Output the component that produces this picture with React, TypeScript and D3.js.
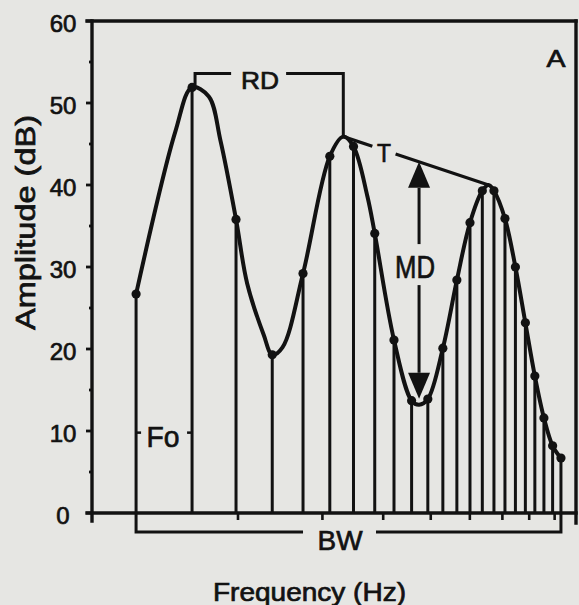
import React from "react";
import * as d3 from "d3";

// ---- data ----
const F0 = 180; // Hz, fundamental
const harmonicNumbers = [1, 2, 3, 4, 5, 6, 7, 8, 9, 10, 11, 12, 13, 14, 15, 16, 17, 18, 19, 20, 21, 22, 23];
const harmonicDb = [26.7, 51.9, 35.8, 19.3, 29.2, 43.5, 44.7, 34.1, 21.1, 13.7, 13.9, 20.1, 28.4, 35.4, 39.3, 39.3, 35.9, 30.0, 23.2, 16.7, 11.6, 8.2, 6.7];
// extra points of the spectral envelope between harmonics
const envelopeExtraHz = [301, 424, 472, 592, 675, 777, 1180, 1376, 1881, 2795];
const envelopeExtraDb = [46.5, 50.8, 45.4, 28.0, 21.7, 20.2, 45.9, 38.6, 13.2, 40.0];
const yTicks = [0, 10, 20, 30, 40, 50, 60];
const yMinorTicks = [5, 15, 25, 35, 45, 55];
const xTicksHz = [549, 1028, 1517, 2014, 2518, 3017, 3492, 4003];
const xDomainHz = [69, 4484];
const freqWarp = 396; // Hz offset of the warped (log) frequency axis
const rdLevelDb = 53.6;
const foLevelDb = 9.8;

const W = 579;
const H = 605;
const INK = "#121212";
const FONT = "'Liberation Sans', Arial, Helvetica, sans-serif";
const TXT = { fill: INK, stroke: INK, strokeWidth: 0.7 };

export default function App() {
  const xs = d3
    .scaleLog()
    .domain([xDomainHz[0] + freqWarp, xDomainHz[1] + freqWarp])
    .range([92, 576]);
  const x = (f: number) => xs(f + freqWarp);
  const y = d3.scaleLinear().domain([0, 60]).range([513, 21]);

  const harmonics = harmonicNumbers.map((n, i) => ({ f: n * F0, db: harmonicDb[i] }));
  const envelope = harmonics
    .concat(envelopeExtraHz.map((f, i) => ({ f, db: envelopeExtraDb[i] })))
    .sort((a, b) => a.f - b.f);

  const peaks = envelope.filter(
    (p, i) => i > 0 && i < envelope.length - 1 && p.db > envelope[i - 1].db && p.db > envelope[i + 1].db
  );
  const valleys = envelope.filter(
    (p, i) => i > 0 && i < envelope.length - 1 && p.db < envelope[i - 1].db && p.db < envelope[i + 1].db
  );
  const [p1, p2, p3] = peaks;
  const valley = valleys[valleys.length - 1];

  const line = d3
    .line<{ f: number; db: number }>()
    .x((d) => x(d.f))
    .y((d) => y(d.db))
    .curve(d3.curveCatmullRom.alpha(0.5));

  const x0 = x(xDomainHz[0]);
  const xR = x(xDomainHz[1]);
  const yTop = y(60);
  const yBase = y(0);

  // RD bracket
  const rdY = y(rdLevelDb);
  const rdX1 = x(p1.f) + 3;
  const rdX2 = x(p2.f);
  const rdTextX = x(p1.f) + 0.45 * (x(p2.f) - x(p1.f));

  // T line
  const tx1 = x(p2.f), ty1 = y(p2.db), tx2 = x(p3.f), ty2 = y(p3.db);
  const tAt = (t: number) => [tx1 + t * (tx2 - tx1), ty1 + t * (ty2 - ty1)];
  const [ga, gay] = tAt(0.2);
  const [gb, gby] = tAt(0.36);
  const [tTx, tTy] = tAt(0.28);

  // MD arrow
  const mdX = x(valley.f);
  const mdTop = ty1 + ((mdX - tx1) / (tx2 - tx1)) * (ty2 - ty1);
  const mdBot = y(valley.db) - 6;
  const mdMid = mdTop + 0.44 * (mdBot - mdTop);
  const ah = 26, aw = 11;

  // Fo
  const foY = y(foLevelDb);
  const h1x = x(harmonics[0].f);
  const h2x = x(harmonics[1].f);

  // BW
  const bwY = 532;
  const hNx = x(harmonics[harmonics.length - 1].f);
  const bwTextX = h1x + 0.48 * (hNx - h1x);

  return (
    <svg
      width={W}
      height={H}
      style={{ position: "absolute", left: 0, top: 0, display: "block" }}
      fontFamily={FONT}
    >
      <rect x={0} y={0} width={W} height={H} fill="#e6e6e3" />

      {/* frame */}
      <g stroke={INK} strokeWidth={3.4} fill="none" strokeLinecap="square">
        <line x1={x0} x2={x0} y1={yTop} y2={yBase + 8} />
        <line x1={x0 - 5} x2={xR} y1={yBase} y2={yBase} />
        <line x1={x0 - 5} x2={xR} y1={yTop} y2={yTop} />
        <line x1={xR} x2={xR} y1={yTop} y2={yBase + 10} />
      </g>

      {/* y ticks */}
      <g stroke={INK} strokeWidth={2.8}>
        {yTicks.map((t) => (
          <line key={"M" + t} x1={x0 - 6} x2={x0} y1={y(t)} y2={y(t)} />
        ))}
        {yMinorTicks.map((t) => (
          <line key={"m" + t} x1={x0 - 3} x2={x0} y1={y(t)} y2={y(t)} />
        ))}
      </g>
      <g {...TXT} fontSize={24} textAnchor="middle">
        {yTicks.map((t) => (
          <text key={t} x={63} y={y(t) + 11}>
            {t}
          </text>
        ))}
      </g>

      {/* x ticks */}
      <g stroke={INK} strokeWidth={2.6}>
        {xTicksHz.map((f) => (
          <line key={f} x1={x(f)} x2={x(f)} y1={yBase} y2={yBase + 7} />
        ))}
      </g>

      {/* harmonic lines */}
      <g stroke={INK} strokeWidth={3}>
        {harmonics.map((h) => (
          <line key={h.f} x1={x(h.f)} x2={x(h.f)} y1={yBase} y2={y(h.db)} />
        ))}
      </g>

      {/* envelope */}
      <path d={line(envelope) || ""} fill="none" stroke={INK} strokeWidth={4} strokeLinejoin="round" />
      <g fill={INK}>
        {harmonics.map((h) => (
          <circle key={h.f} cx={x(h.f)} cy={y(h.db)} r={4.6} />
        ))}
      </g>

      {/* RD bracket */}
      <g stroke={INK} strokeWidth={3} fill="none">
        <polyline points={`${rdX1},${y(p1.db)} ${rdX1},${rdY} ${rdTextX - 29},${rdY}`} />
        <polyline points={`${rdTextX + 26},${rdY} ${rdX2},${rdY} ${rdX2},${y(p2.db)}`} />
      </g>
      <text x={rdTextX} y={rdY + 16} fontSize={24} textAnchor="middle" {...TXT} textLength={38} lengthAdjust="spacingAndGlyphs">
        RD
      </text>

      {/* T line */}
      <g stroke={INK} strokeWidth={3.2}>
        <line x1={tx1} y1={ty1} x2={ga} y2={gay} />
        <line x1={gb} y1={gby} x2={tx2} y2={ty2} />
      </g>
      <text x={tTx} y={tTy + 12} fontSize={26} textAnchor="middle" {...TXT} textLength={14} lengthAdjust="spacingAndGlyphs">
        T
      </text>

      {/* MD arrow */}
      <g stroke={INK} strokeWidth={3}>
        <line x1={mdX} x2={mdX} y1={mdTop + ah} y2={mdMid - 22} />
        <line x1={mdX} x2={mdX} y1={mdMid + 19} y2={mdBot - ah} />
      </g>
      <g fill={INK}>
        <path d={`M${mdX},${mdTop} L${mdX - aw},${mdTop + ah} L${mdX + aw},${mdTop + ah} Z`} />
        <path d={`M${mdX},${mdBot} L${mdX - aw},${mdBot - ah} L${mdX + aw},${mdBot - ah} Z`} />
      </g>
      <text x={mdX - 4} y={mdMid + 11.5} fontSize={32} textAnchor="middle" {...TXT} textLength={40} lengthAdjust="spacingAndGlyphs">
        MD
      </text>

      {/* Fo */}
      <g stroke={INK} strokeWidth={2.5}>
        <line x1={h1x} x2={h1x + 5} y1={foY} y2={foY} />
        <line x1={h2x - 5} x2={h2x} y1={foY} y2={foY} />
      </g>
      <text x={(h1x + h2x) / 2 - 1} y={foY + 14.5} fontSize={30} textAnchor="middle" {...TXT} textLength={33} lengthAdjust="spacingAndGlyphs">
        Fo
      </text>

      {/* BW bracket */}
      <g stroke={INK} strokeWidth={3} fill="none">
        <polyline points={`${h1x},${yBase} ${h1x},${bwY} ${bwTextX - 37},${bwY}`} />
        <polyline points={`${bwTextX + 36},${bwY} ${hNx},${bwY} ${hNx},${yBase}`} />
      </g>
      <text x={bwTextX} y={bwY + 18} fontSize={28} textAnchor="middle" {...TXT} textLength={45} lengthAdjust="spacingAndGlyphs">
        BW
      </text>

      {/* panel letter */}
      <text x={556} y={67} fontSize={24} textAnchor="middle" {...TXT} textLength={19} lengthAdjust="spacingAndGlyphs">
        A
      </text>

      {/* axis titles */}
      <text
        transform="translate(35,222.5) rotate(-90)"
        fontSize={27}
        textAnchor="middle"
        {...TXT}
        textLength={215}
        lengthAdjust="spacingAndGlyphs"
      >
        Amplitude (dB)
      </text>
      <text x={309.5} y={601} fontSize={25.5} textAnchor="middle" {...TXT} textLength={193} lengthAdjust="spacingAndGlyphs">
        Frequency (Hz)
      </text>
    </svg>
  );
}
